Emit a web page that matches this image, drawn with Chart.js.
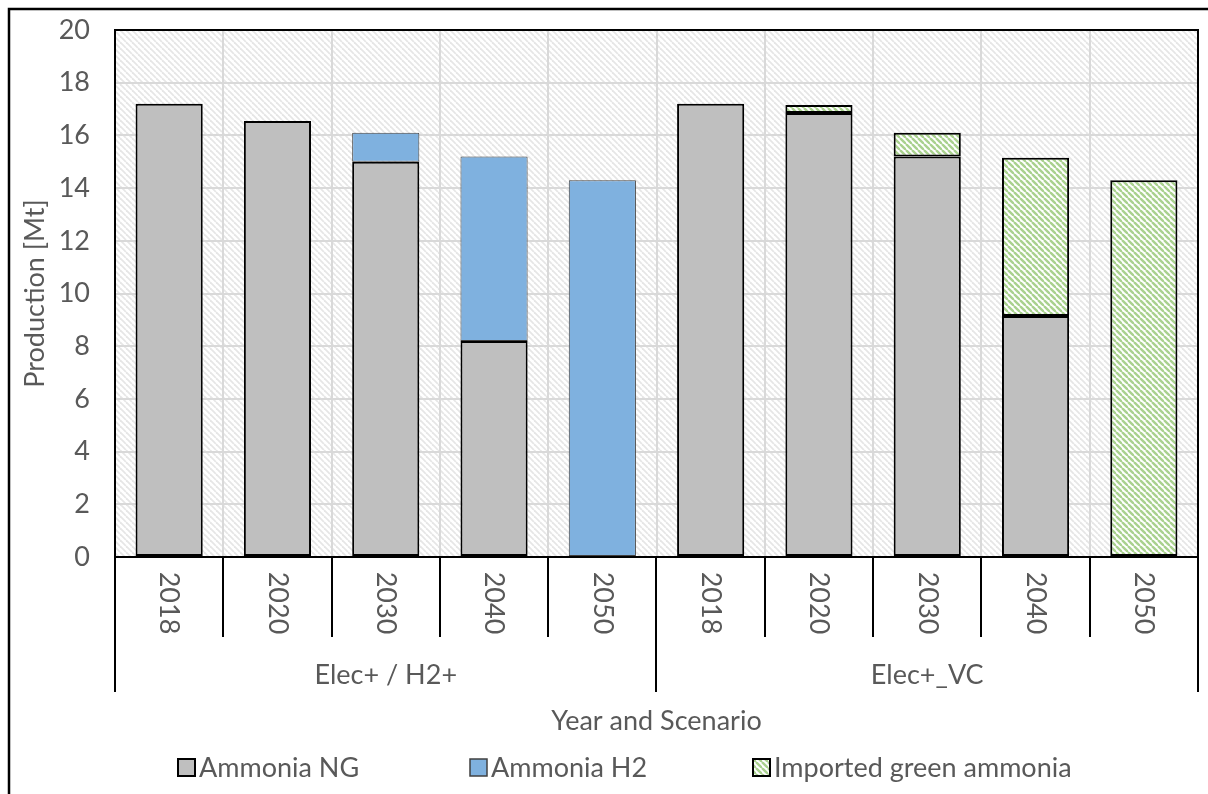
<!DOCTYPE html>
<html>
<head>
<meta charset="utf-8">
<script src="https://cdn.jsdelivr.net/npm/chart.js@4"></script>
<style>
  body { margin: 0; background: #fff; }
  canvas { display: block; }
</style>
</head>
<body>
<canvas id="produccionChart" width="1208" height="794"></canvas>
<script>
const years = ['2018', '2020', '2030', '2040', '2050', '2018', '2020', '2030', '2040', '2050'];
const scenarios = ['Elec+ / H2+', 'Elec+_VC'];
const ammoniaNG = [17.2, 16.55, 15.0, 8.2, null, 17.2, 16.85, 15.2, 9.15, null];
const ammoniaH2 = [null, null, 1.1, 7.0, 14.3, null, null, null, null, null];
const importedGreen = [null, null, null, null, null, null, 0.3, 0.9, 6.0, 14.3];
const yTicks = [0, 2, 4, 6, 8, 10, 12, 14, 16, 18, 20];

const FONT = 'Lato, "Open Sans", sans-serif';
const TXT = '#595959';

// diagonal stripes, same direction as the excel pattern
function stripes(fg, bg, size, lw) {
    const c = document.createElement('canvas');
    c.width = c.height = size;
    const x = c.getContext('2d');
    x.fillStyle = bg;
    x.fillRect(0, 0, size, size);
    x.strokeStyle = fg;
    x.lineWidth = lw;
    for (const k of [-size, 0, size]) {
        x.beginPath();
        x.moveTo(k, 0);
        x.lineTo(k + size, size);
        x.stroke();
    }
    return x.createPattern(c, 'repeat');
}

const greenHatch = stripes('#a9d18e', '#ffffff', 6, 2.4);
const bgHatch = stripes('#e6e6e6', '#ffffff', 6, 1.8);

const fondo = {
    id: 'fondo',
    beforeDraw(chart) {
        const { ctx, chartArea: a } = chart;
        ctx.save();
        ctx.fillStyle = '#ffffff';
        ctx.fillRect(0, 0, chart.width, chart.height);
        ctx.fillStyle = bgHatch;
        ctx.fillRect(a.left, a.top, a.right - a.left, a.bottom - a.top);
        ctx.restore();
    }
};

const ejes = {
    id: 'ejes',
    afterDraw(chart) {
        const { ctx, chartArea: a, scales } = chart;
        const xs = scales.x;
        const step = xs.getPixelForValue(1) - xs.getPixelForValue(0);
        ctx.save();

        // outer frame (top and left visible)
        ctx.strokeStyle = '#000';
        ctx.lineWidth = 2.5;
        ctx.beginPath();
        ctx.moveTo(9, 830);
        ctx.lineTo(9, 9);
        ctx.lineTo(1230, 9);
        ctx.stroke();

        // plot border
        ctx.lineWidth = 2;
        ctx.strokeRect(a.left, a.top, a.right - a.left, a.bottom - a.top);

        // category separators
        for (let i = 0; i <= years.length; i++) {
            const x = Math.round(xs.getPixelForValue(0) - step / 2 + i * step);
            const largo = (i % 5 === 0) ? 135 : 80;
            ctx.beginPath();
            ctx.moveTo(x, a.bottom);
            ctx.lineTo(x, a.bottom + largo);
            ctx.stroke();
        }

        ctx.fillStyle = TXT;
        ctx.font = `27px ${FONT}`;
        ctx.textAlign = 'center';
        ctx.textBaseline = 'middle';

        // rotated year labels
        years.forEach((y, i) => {
            const x = xs.getPixelForValue(i);
            ctx.save();
            ctx.translate(x, a.bottom + 46);
            ctx.rotate(Math.PI / 2);
            ctx.fillText(y, 0, 0);
            ctx.restore();
        });

        // scenario labels
        scenarios.forEach((s, g) => {
            const x0 = xs.getPixelForValue(g * 5) - step / 2;
            ctx.fillText(s, x0 + step * 2.5, a.bottom + 118);
        });

        // axis titles
        ctx.fillText('Year and Scenario', (a.left + a.right) / 2, a.bottom + 164);
        ctx.save();
        ctx.translate(35, (a.top + a.bottom) / 2);
        ctx.rotate(-Math.PI / 2);
        ctx.fillText('Production [Mt]', 0, 0);
        ctx.restore();

        // legend
        const cajas = [178, 470, 753];
        ctx.textAlign = 'left';
        chart.data.datasets.forEach((ds, i) => {
            const bx = cajas[i];
            const by = 759;
            ctx.fillStyle = ds.backgroundColor;
            ctx.fillRect(bx, by, 17, 17);
            ctx.strokeStyle = i === 1 ? '#404040' : '#000';
            ctx.lineWidth = i === 1 ? 1.5 : 2;
            ctx.strokeRect(bx, by, 17, 17);
            ctx.fillStyle = TXT;
            ctx.fillText(ds.label, bx + 21, by + 9);
        });

        ctx.restore();
    }
};

const bar = document.getElementById('produccionChart');
new Chart(bar, {
    type: 'bar',
    data: {
        labels: years,
        datasets: [
            {
                label: 'Ammonia NG',
                data: ammoniaNG,
                backgroundColor: '#bfbfbf',
                borderColor: '#000000',
                borderWidth: 2,
                borderSkipped: false
            },
            {
                label: 'Ammonia H2',
                data: ammoniaH2,
                backgroundColor: '#7fb1df',
                borderColor: '#404040',
                borderWidth: 1,
                borderSkipped: false
            },
            {
                label: 'Imported green ammonia',
                data: importedGreen,
                backgroundColor: greenHatch,
                borderColor: '#000000',
                borderWidth: 2,
                borderSkipped: false
            }
        ]
    },
    options: {
        responsive: false,
        animation: false,
        devicePixelRatio: 1,
        layout: {
            padding: { left: 0, top: 30, right: 10, bottom: 0 }
        },
        plugins: {
            legend: { display: false },
            tooltip: { enabled: false }
        },
        datasets: {
            bar: {
                barPercentage: 0.62,
                categoryPercentage: 1.0
            }
        },
        scales: {
            x: {
                stacked: true,
                offset: true,
                ticks: { display: false },
                border: { display: false },
                grid: {
                    offset: true,
                    color: '#d9d9d9',
                    lineWidth: 2,
                    drawTicks: false
                },
                afterFit(scale) {
                    scale.height = 237;
                }
            },
            y: {
                stacked: true,
                min: 0,
                max: 20,
                afterBuildTicks(scale) {
                    scale.ticks = yTicks.map(v => ({ value: v }));
                },
                ticks: {
                    color: TXT,
                    font: { family: FONT, size: 27 },
                    padding: 25
                },
                border: { display: false },
                grid: {
                    color: '#d9d9d9',
                    lineWidth: 2,
                    drawTicks: false
                },
                afterFit(scale) {
                    scale.width = 115;
                    scale.paddingTop = 0;
                    scale.paddingBottom = 0;
                }
            }
        }
    },
    plugins: [fondo, ejes]
});
</script>
</body>
</html>
